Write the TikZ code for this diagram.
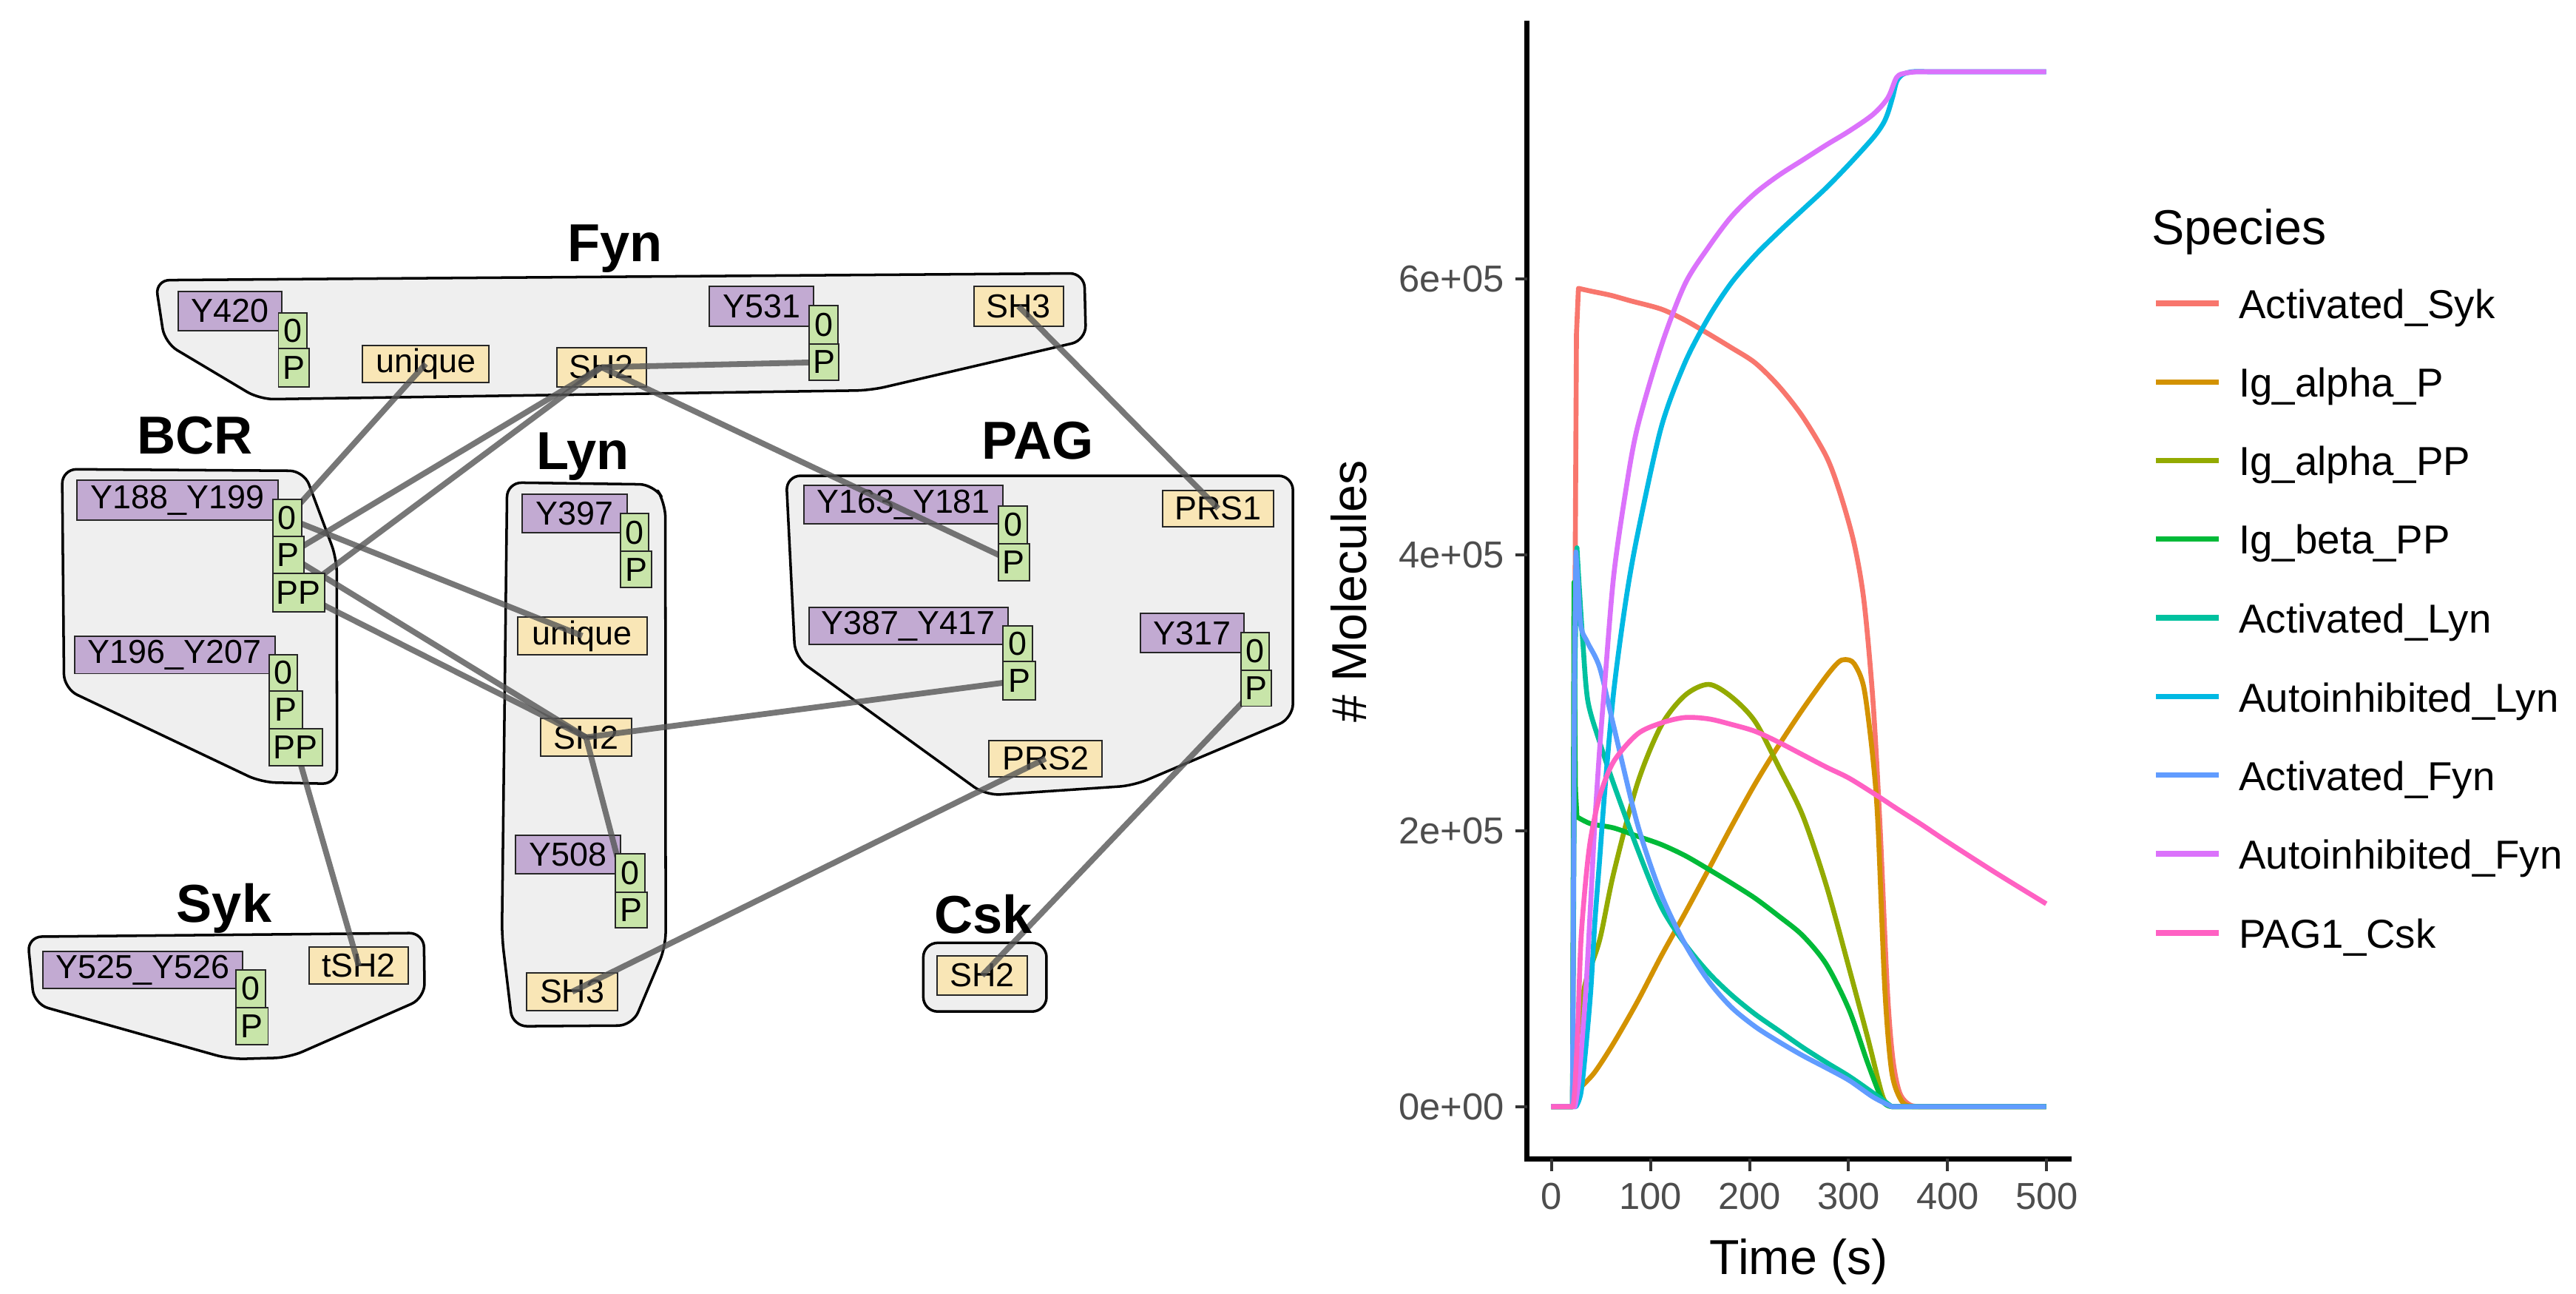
\documentclass[tikz,border=0pt]{standalone}
\usepackage{fontspec}
\setmainfont{Liberation Sans}
\definecolor{cpurp}{HTML}{C2AAD2}
\definecolor{cyel}{HTML}{F9E6B6}
\definecolor{cgrn}{HTML}{C8E5A9}
\definecolor{contfill}{HTML}{EFEFEF}
\definecolor{connc}{HTML}{555555}
\definecolor{tickc}{HTML}{4D4D4D}
\definecolor{tkc}{HTML}{333333}
\definecolor{c1}{HTML}{F8766D}
\definecolor{c2}{HTML}{D39200}
\definecolor{c3}{HTML}{93AA00}
\definecolor{c4}{HTML}{00BA38}
\definecolor{c5}{HTML}{00C19F}
\definecolor{c6}{HTML}{00B9E3}
\definecolor{c7}{HTML}{619CFF}
\definecolor{c8}{HTML}{DB72FB}
\definecolor{c9}{HTML}{FF61C3}
\pgfdeclarelayer{bg}
\pgfdeclarelayer{mid}
\pgfdeclarelayer{lines}
\pgfsetlayers{bg,mid,lines,main}
\newcommand\comp[7]{\node[#2, minimum width={(#5-#3)*0.02cm}, minimum height={(#6-#4)*0.02cm}] (#1) at ({(#3+#5)/2},{(#4+#6)/2}) {#7};}
\begin{document}
\begin{tikzpicture}[x=0.02cm,y=-0.02cm,
  cont/.style={draw=black, fill=contfill, line width=0.9pt, rounded corners=5pt, line join=round},
  comp/.style={draw=black!85, line width=0.5pt, inner sep=0pt, font=\fontsize{11.5}{13}\selectfont},
  purp/.style={comp, fill=cpurp},
  yel/.style={comp, fill=cyel},
  grn/.style={comp, fill=cgrn},
  ttl/.style={font=\bfseries\fontsize{18.5}{20}\selectfont, inner sep=0pt, anchor=base},
  conn/.style={draw=connc, line width=2pt, draw opacity=0.8},
  crv/.style={line width=1.7pt, line join=round},
  tk/.style={draw=tkc, line width=1pt},
  ticklab/.style={font=\fontsize{13}{15}\selectfont, text=tickc, inner sep=0pt},
  axtitle/.style={font=\fontsize{17}{19}\selectfont, inner sep=0pt},
  leglab/.style={font=\fontsize{14}{16}\selectfont, inner sep=0pt, anchor=base west},
  legline/.style={line width=1.9pt}]
\useasboundingbox (0,0) rectangle (1568,787);
\begin{pgfonlayer}{bg}
\fill[white] (0,0) rectangle (1568,787);
% containers
\draw[cont] (94.5,170.5) -- (660,166.3) -- (661,207) -- (530,237.5) -- (158,243) -- (100.3,208.6) -- cycle;
\draw[cont] (37.8,285.5) -- (185,286.5) -- (205,340) -- (205.1,477) -- (159,476) -- (39,419) -- cycle;
\draw[cont] (308.7,293.6) -- (398,294.8) -- (405,306) -- (405.2,576) -- (385,624) -- (312,624.5) -- (305.5,570) -- cycle;
\draw[cont] (478.5,289.5) -- (787,289.5) -- (787,437) -- (690,478) -- (600,484) -- (484,400) -- cycle;
\draw[cont] (16.7,570) -- (258,567.7) -- (258.5,607.3) -- (176,643.5) -- (140,644.5) -- (20.8,611) -- cycle;
\draw[cont] (562,573.7) rectangle (637,615.5);
\end{pgfonlayer}

% titles
\node[ttl] (tFyn) at (374.4,159.1) {Fyn};
\node[ttl] (tBCR) at (118.7,276.2) {BCR};
\node[ttl] (tLyn) at (354.7,285.5) {Lyn};
\node[ttl] (tPAG) at (631.8,279.4) {PAG};
\node[ttl] (tSyk) at (136.4,561) {Syk};
\node[ttl] (tCsk) at (598.4,567.7) {Csk};

\begin{pgfonlayer}{mid}
% Fyn
\comp{fY420}{purp}{108.7}{177.4}{171.4}{201.1}{Y420}
\comp{funi}{yel}{220.7}{210.1}{297.6}{232.6}{unique}
\comp{fSH2}{yel}{338.8}{211.6}{393.4}{235.3}{SH2}
\comp{fY531}{purp}{431.9}{174.4}{495.3}{198.4}{Y531}
\comp{fSH3}{yel}{592.7}{174.4}{647.3}{198.4}{SH3}
% BCR
\comp{bY188}{purp}{46.7}{292.3}{169.2}{316.4}{Y188\_Y199}
\comp{bY196}{purp}{45.3}{387.1}{167.3}{409.9}{Y196\_Y207}
% Lyn
\comp{lY397}{purp}{317.9}{300.9}{381.7}{324.1}{Y397}
\comp{luni}{yel}{315.1}{375.3}{393.7}{398.5}{unique}
\comp{lSH2}{yel}{328.9}{437.1}{384.5}{460.2}{SH2}
\comp{lY508}{purp}{313.7}{508.3}{377.6}{531.5}{Y508}
\comp{lSH3}{yel}{320.6}{592}{376}{614.9}{SH3}
% PAG
\comp{pY163}{purp}{489.3}{295.2}{610.6}{318.8}{Y163\_Y181}
\comp{pY387}{purp}{492.3}{369.7}{613.4}{391.9}{Y387\_Y417}
\comp{pPRS1}{yel}{707.8}{298.4}{775.3}{320.4}{PRS1}
\comp{pY317}{purp}{694}{373.4}{757.2}{397.2}{Y317}
\comp{pPRS2}{yel}{602.1}{450.6}{670.8}{472.6}{PRS2}
% Syk
\comp{sY525}{purp}{26.2}{578.9}{147.8}{601.3}{Y525\_Y526}
\comp{stSH2}{yel}{188.2}{576.4}{248.5}{598.7}{tSH2}
% Csk
\comp{cSH2}{yel}{570.3}{581.6}{625.3}{605.5}{SH2}
\end{pgfonlayer}

% state boxes (opaque, on top)
\comp{fY420a}{grn}{169.5}{190.3}{186.8}{212}{0}
\comp{fY420b}{grn}{169.5}{212}{188}{235.6}{P}
\comp{fY531a}{grn}{492.6}{185.8}{510}{209.3}{0}
\comp{fY531b}{grn}{492.6}{209.3}{510.7}{231.4}{P}
\comp{bY188a}{grn}{166}{303.8}{183.5}{326.5}{0}
\comp{bY188b}{grn}{166}{326.5}{184.9}{348.8}{P}
\comp{bY188c}{grn}{166}{348.8}{197.6}{372.3}{PP}
\comp{bY196a}{grn}{163.8}{398.3}{180.8}{420.5}{0}
\comp{bY196b}{grn}{163.8}{420.5}{184.1}{443.3}{P}
\comp{bY196c}{grn}{163.8}{443.3}{196.2}{465.8}{PP}
\comp{lY397a}{grn}{377.6}{312.6}{394.8}{335.5}{0}
\comp{lY397b}{grn}{377.6}{335.5}{396.7}{357.5}{P}
\comp{lY508a}{grn}{374.6}{519.3}{392.5}{543}{0}
\comp{lY508b}{grn}{374.6}{543}{393.7}{564.4}{P}
\comp{pY163a}{grn}{607.6}{308}{625.5}{330.8}{0}
\comp{pY163b}{grn}{607.6}{330.8}{626.7}{353.3}{P}
\comp{pY387a}{grn}{610.6}{380.7}{628.5}{402.4}{0}
\comp{pY387b}{grn}{610.6}{402.4}{630.1}{426}{P}
\comp{pY317a}{grn}{755.3}{384.7}{772.6}{408}{0}
\comp{pY317b}{grn}{755.3}{408}{773.7}{429.7}{P}
\comp{sY525a}{grn}{143.6}{590.1}{161.5}{613}{0}
\comp{sY525b}{grn}{143.6}{613}{163.2}{635.7}{P}

% connectors
\begin{pgfonlayer}{lines}
\draw[conn] (fSH2.center) -- (fY531b.center);
\draw[conn] (fSH3.center) -- (pPRS1.center);
\draw[conn] (funi.center) -- (bY188a.center);
\draw[conn] (fSH2.center) -- (bY188b.center);
\draw[conn] (fSH2.center) -- (bY188c.center);
\draw[conn] (fSH2.center) -- (pY163b.center);
\draw[conn] (bY188a.center) -- (luni.center);
\draw[conn] (bY188b.center) -- (lSH2.center);
\draw[conn] (bY188c.center) -- (lSH2.center);
\draw[conn] (lSH2.center) -- (pY387b.center);
\draw[conn] (lSH2.center) -- (lY508b.center);
\draw[conn] (lSH3.center) -- (pPRS2.center);
\draw[conn] (pY317b.center) -- (cSH2.center);
\draw[conn] (stSH2.center) -- (bY196c.center);
\end{pgfonlayer}

% ---------------- plot ----------------
\begin{scope}[shift={(18.888cm,-13.47cm)}, x=0.012056cm, y=1.6796cm]
\draw[crv,c1] (0,0) -- (21.5,0) -- (23.5,3) -- (25.5,5.6) -- plot[smooth] coordinates {(27.5,5.93) (40,5.91) (60,5.88) (80,5.84) (111,5.78) (135,5.70) (159,5.6) (182,5.5) (206,5.39) (230,5.22) (254,5.0) (278,4.71) (292,4.44) (306,4.08) (316,3.66) (325,2.94) (332,2.05) (339.5,0.85) (345,0.35) (352,0.1) (363,0.01) (380,0)} -- (500,0);
\draw[crv,c2] (0,0) -- (22,0) -- plot[smooth] coordinates {(22,0) (25,0.08) (30,0.14) (44,0.25) (63,0.46) (87,0.76) (111,1.09) (135,1.40) (159,1.72) (182,2.03) (206,2.34) (230,2.62) (254,2.88) (278,3.12) (290,3.22) (297,3.24) (306,3.21) (316,3.03) (325,2.52) (330,2.05) (337,0.85) (344,0.25) (354,0.04) (365,0)} -- (500,0);
\draw[crv,c3] (0,0) -- (22,0) -- plot[smooth] coordinates {(22,0) (25,0.4) (30,0.7) (35,0.91) (49,1.21) (63,1.69) (87,2.34) (111,2.76) (135,2.98) (159,3.06) (182,2.97) (206,2.79) (230,2.46) (254,2.11) (278,1.60) (301,1.0) (320,0.49) (335,0.07) (344,0)} -- (500,0);
\draw[crv,c4] (0,0) -- (21.5,0) -- (23,3.8) -- (24.5,2.3) -- plot[smooth] coordinates {(26,2.1) (40,2.05) (63,2.02) (87,1.96) (111,1.9) (135,1.82) (159,1.72) (182,1.62) (206,1.51) (230,1.38) (254,1.24) (278,1.03) (301,0.70) (320,0.31) (335,0.04) (345,0)} -- (500,0);
\draw[crv,c5] (0,0) -- (21.5,0) -- (24,3.2) -- plot[smooth] coordinates {(26,4.05) (28,3.8) (32,3.36) (37,2.94) (49,2.64) (63,2.34) (87,1.87) (111,1.45) (135,1.18) (159,0.97) (182,0.81) (206,0.67) (230,0.55) (254,0.43) (278,0.32) (301,0.22) (325,0.10) (344,0)} -- (500,0);
\draw[crv,c6] (0,0) -- (25,0) -- plot[smooth] coordinates {(25,0) (30,0.1) (35,0.43) (40,0.85) (44,1.33) (49,1.8) (54,2.28) (63,3.0) (75,3.65) (87,4.14) (111,4.92) (135,5.39) (159,5.72) (182,5.97) (206,6.17) (230,6.34) (254,6.5) (278,6.66) (301,6.83) (325,7.02) (335,7.12) (340,7.2) (345,7.32) (349,7.43) (355,7.48) (365,7.5) (380,7.5)} -- (500,7.5);
\draw[crv,c7] (0,0) -- (21.5,0) -- (23.5,3.2) -- plot[smooth] coordinates {(25,4.02) (27,3.8) (30,3.48) (37,3.36) (49,3.18) (63,2.76) (87,2.05) (111,1.54) (135,1.18) (159,0.91) (182,0.72) (206,0.58) (230,0.47) (254,0.37) (278,0.28) (301,0.19) (325,0.07) (344,0)} -- (500,0);
\draw[crv,c8] (0,0) -- (24,0) -- plot[smooth] coordinates {(24,0) (28,0.2) (35,0.85) (40,1.5) (44,2.05) (49,2.6) (54,3.06) (63,3.84) (75,4.45) (87,4.92) (111,5.51) (135,5.96) (159,6.23) (182,6.45) (206,6.62) (230,6.75) (254,6.86) (278,6.97) (301,7.07) (325,7.19) (340,7.31) (349,7.46) (358,7.49) (370,7.5)} -- (500,7.5);
\draw[crv,c9] (0,0) -- (22,0) -- plot[smooth] coordinates {(22,0) (24,0.15) (27,0.6) (30,1.2) (35,1.65) (40,1.95) (49,2.25) (63,2.5) (87,2.7) (111,2.78) (135,2.82) (159,2.81) (182,2.77) (206,2.72) (230,2.64) (254,2.55) (278,2.46) (301,2.38) (330,2.25) (349,2.16) (375,2.04) (400,1.92) (450,1.69) (500,1.47)};
\end{scope}

% axes
\draw[black, line width=1.8pt, line join=miter] (929.5,12.5) -- (929.5,705.2) -- (1261,705.2);
\foreach \yy in {673.5,505.5,337.6,169.6} \draw[tk] (922.3,\yy) -- (929.5,\yy);
\foreach \xx in {944.4,1004.7,1065,1125.2,1185.5,1245.8} \draw[tk] (\xx,705.2) -- (\xx,712.5);
\node[ticklab, anchor=east] (yl0) at (916,673.5) {0e+00};
\node[ticklab, anchor=east] (yl2) at (916,505.5) {2e+05};
\node[ticklab, anchor=east] (yl4) at (916,337.6) {4e+05};
\node[ticklab, anchor=east] (yl6) at (916,169.6) {6e+05};
\node[ticklab] (xl0) at (944.4,727.8) {0};
\node[ticklab] (xl1) at (1004.7,727.8) {100};
\node[ticklab] (xl2) at (1065,727.8) {200};
\node[ticklab] (xl3) at (1125.2,727.8) {300};
\node[ticklab] (xl4) at (1185.5,727.8) {400};
\node[ticklab] (xl5) at (1245.8,727.8) {500};
\node[axtitle, anchor=base] (xlab) at (1095,775.4) {Time (s)};
\node[axtitle, rotate=90, anchor=base] (ylab) at (831.5,360) {\# Molecules};

% legend
\node[axtitle, anchor=base west] (legt) at (1309.5,148.8) {Species};
\draw[legline,c1] (1312.5,184.5) -- (1350.7,184.5);
\draw[legline,c2] (1312.5,232.5) -- (1350.7,232.5);
\draw[legline,c3] (1312.5,280.2) -- (1350.7,280.2);
\draw[legline,c4] (1312.5,327.9) -- (1350.7,327.9);
\draw[legline,c5] (1312.5,375.9) -- (1350.7,375.9);
\draw[legline,c6] (1312.5,423.9) -- (1350.7,423.9);
\draw[legline,c7] (1312.5,471.6) -- (1350.7,471.6);
\draw[legline,c8] (1312.5,519.6) -- (1350.7,519.6);
\draw[legline,c9] (1312.5,567.6) -- (1350.7,567.6);
\node[leglab] (lg1) at (1362.5,193.7) {Activated\_Syk};
\node[leglab] (lg2) at (1362.5,241.7) {Ig\_alpha\_P};
\node[leglab] (lg3) at (1362.5,289.4) {Ig\_alpha\_PP};
\node[leglab] (lg4) at (1362.5,337.1) {Ig\_beta\_PP};
\node[leglab] (lg5) at (1362.5,385.1) {Activated\_Lyn};
\node[leglab] (lg6) at (1362.5,433.1) {Autoinhibited\_Lyn};
\node[leglab] (lg7) at (1362.5,480.8) {Activated\_Fyn};
\node[leglab] (lg8) at (1362.5,528.8) {Autoinhibited\_Fyn};
\node[leglab] (lg9) at (1362.5,576.8) {PAG1\_Csk};
\end{tikzpicture}
\end{document}
